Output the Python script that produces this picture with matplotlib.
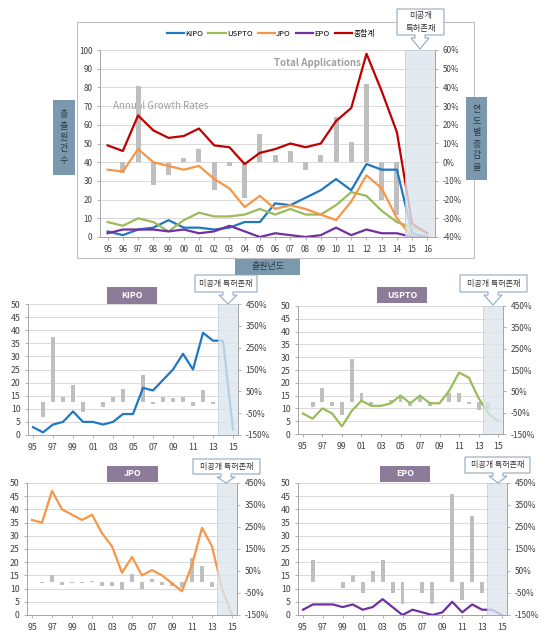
import numpy as np
import matplotlib
matplotlib.use("Agg")
import matplotlib.pyplot as plt
from matplotlib.patches import Polygon, Rectangle

plt.rcParams['font.family'] = ['Noto Sans CJK KR', 'DejaVu Sans']

# - DATA - #
years = ['95', '96', '97', '98', '99', '00', '01', '02', '03', '04', '05',
         '06', '07', '08', '09', '10', '11', '12', '13', '14', '15', '16']
kipo = [3, 1, 4, 5, 9, 5, 5, 4, 5, 8, 8, 18, 17, 21, 25, 31, 25, 39, 36, 36, 2, 0]
uspto = [8, 6, 10, 8, 3, 9, 13, 11, 11, 12, 15, 12, 15, 12, 12, 17, 24, 22, 14, 8, 5, 2]
jpo = [36, 35, 47, 40, 38, 36, 38, 31, 26, 16, 22, 15, 17, 15, 12, 9, 19, 33, 26, 10, 0, 0]
epo = [2, 4, 4, 4, 3, 4, 2, 3, 6, 3, 0, 2, 1, 0, 1, 5, 1, 4, 2, 2, 0, 0]
total = [49, 46, 65, 57, 53, 54, 58, 49, 48, 39, 45, 47, 50, 48, 50, 62, 69, 98, 78, 56, 7, 2]

nan = np.nan
# annual growth rates (%), 95..14
g_total = [nan, -6, 41, -12, -7, 2, 7, -15, -2, -19, 15, 4, 6, -4, 4, 24, 11, 42, -20, -28]
g_kipo = [nan, -67, 300, 25, 80, -44, 0, -20, 25, 60, 0, 125, -6, 24, 19, 24, -19, 56, -8, 0]
g_uspto = [nan, -25, 67, -20, -62, 200, 44, -15, 0, 9, 25, -20, 25, -20, 0, 42, 41, -8, -36, -38]
g_jpo = [nan, -3, 34, -15, -5, -5, 6, -18, -16, -38, 38, -32, 13, -12, -20, -25, 111, 74, -21, nan]
g_epo = [nan, 100, 0, 0, -25, 33, -50, 50, 100, -50, -100, nan, -50, -100, nan, 400, -80, 300, -50, 0]

c_kipo, c_uspto, c_jpo, c_epo, c_total = '#1F78C1', '#9BBB59', '#F79646', '#7030A0', '#C00000'
bar_c = '#BFBFBF'
shade_c = '#DCE6ED'
box_c = '#7B99AE'
title_c = '#8C7B99'

W, H = 550, 640
fig = plt.figure(figsize=(W / 100, H / 100), dpi=100)


def fx(x):
    return x / W


def fy(y):
    return 1 - y / H


def px_axes(x0, y0, x1, y1):
    return fig.add_axes([fx(x0), fy(y1), (x1 - x0) / W, (y1 - y0) / H])


def rect(x0, y0, x1, y1, fc, ec='none', lw=0.8, z=1):
    r = Rectangle((fx(x0), fy(y1)), (x1 - x0) / W, (y1 - y0) / H, transform=fig.transFigure,
                  facecolor=fc, edgecolor=ec, lw=lw, zorder=z)
    fig.add_artist(r)


def callout(x0, y0, x1, y1, tx, ty, text, fs=6):
    pts = [(x0, y0), (x1, y0), (x1, y1), (tx + 5, y1), (tx + 5, y1 + 3), (tx + 9, y1 + 3),
           (tx, ty), (tx - 9, y1 + 3), (tx - 5, y1 + 3), (tx - 5, y1), (x0, y1)]
    poly = Polygon([(fx(a), fy(b)) for a, b in pts], closed=True, transform=fig.transFigure,
                   facecolor='white', edgecolor='#8FAAC0', lw=0.8, zorder=10)
    fig.add_artist(poly)
    fig.text(fx((x0 + x1) / 2), fy((y0 + y1) / 2), text, ha='center', va='center',
             fontsize=fs, color='#333333', zorder=11, linespacing=1.6)


def style_axes(ax, ax2):
    for a in (ax, ax2):
        a.spines['top'].set_visible(False)
        for s in ('left', 'right', 'bottom'):
            a.spines[s].set_color('#A6A6A6')
            a.spines[s].set_linewidth(0.7)
        a.tick_params(colors='#A6A6A6', labelcolor='#404040', length=2, width=0.6)
    ax.grid(axis='y', color='#D9D9D9', lw=0.7)
    ax.set_axisbelow(True)


# - MAIN CHART - #
rect(77, 22, 474, 258, 'none', '#BFBFBF', lw=0.8, z=0)
ax = px_axes(100, 50, 435, 237)
ax2 = ax.twinx()
x = np.arange(len(years))
ax2.bar(x[:20], g_total, width=0.33, color=bar_c, zorder=2)
series = [(kipo, c_kipo, 'KIPO'), (uspto, c_uspto, 'USPTO'), (jpo, c_jpo, 'JPO'),
          (epo, c_epo, 'EPO'), (total, c_total, '종합계')]
handles = []
for vals, c, name in series:
    h, = ax2.plot(x, vals, color=c, lw=1.6, transform=ax.transData, label=name, zorder=3)
    handles.append(h)
ax2.axvspan(19.5, 21.5, facecolor=shade_c, edgecolor='#B8CAD6', lw=0.6, alpha=0.82, zorder=5)
ax.set_xlim(-0.5, 21.5)
ax.set_ylim(0, 100)
ax.set_yticks(range(0, 101, 10))
ax2.set_ylim(-40, 60)
ax2.set_yticks(range(-40, 61, 10))
ax2.set_yticklabels([f'{v}%' for v in range(-40, 61, 10)])
ax.set_xticks(x)
ax.set_xticklabels(years)
style_axes(ax, ax2)
ax.tick_params(labelsize=5.8)
ax2.tick_params(labelsize=5.8)
ax2.legend(handles=handles, loc='center', bbox_to_anchor=(0.51, 1.085), ncol=5, frameon=False,
           fontsize=5.6, handlelength=2.2, handletextpad=0.15, columnspacing=0.7)
ax.text(0.65, 0.93, 'Total Applications', transform=ax.transAxes, ha='center', va='center',
        fontsize=7, color='#A0A0A0', fontweight='bold')
ax.text(0.18, 0.70, 'Annual Growth Rates', transform=ax.transAxes, ha='center', va='center',
        fontsize=7, color='#A0A0A0')

# axis label boxes
rect(53, 100, 75, 175, box_c, z=2)
fig.text(fx(64), fy(137.5), '\n'.join('총출원건수'), ha='center', va='center', fontsize=6.5,
         color='#2E3B47', linespacing=1.35)
rect(466, 97, 487, 180, box_c, z=2)
fig.text(fx(476.5), fy(138.5), '\n'.join('연도별증감율'), ha='center', va='center', fontsize=6.5,
         color='#2E3B47', linespacing=1.35)
rect(235, 259, 300, 275, box_c, z=2)
fig.text(fx(267.5), fy(267), '출원년도', ha='center', va='center', fontsize=6.5, color='#2E3B47')
callout(397, 9, 444, 35, 420, 49, '미공개\n특허존재', fs=6)


# - SMALL CHARTS - #
def small_chart(box, vals, growth, color, title, tbox, cbox):
    x0, y0, x1, y1 = box
    a = px_axes(x0, y0, x1, y1)
    a2 = a.twinx()
    xs = np.arange(21)
    a2.bar(xs[:20], growth, width=0.4, color=bar_c, zorder=2)
    a2.plot(xs, vals[:21], color=color, lw=1.6, transform=a.transData, zorder=3)
    a2.axvspan(18.5, 20.5, facecolor=shade_c, edgecolor='#B8CAD6', lw=0.6, alpha=0.8, zorder=5)
    a.set_xlim(-0.5, 20.5)
    a.set_ylim(0, 50)
    a.set_yticks(range(0, 51, 5))
    a2.set_ylim(-150, 450)
    a2.set_yticks(range(-150, 451, 100))
    a2.set_yticklabels([f'{v}%' for v in range(-150, 451, 100)])
    a.set_xticks(xs[::2])
    a.set_xticklabels(years[0:21:2])
    style_axes(a, a2)
    a.tick_params(labelsize=6.3)
    a2.tick_params(labelsize=6)
    tx0, ty0, tx1, ty1 = tbox
    rect(tx0, ty0, tx1, ty1, title_c, z=2)
    fig.text(fx((tx0 + tx1) / 2), fy((ty0 + ty1) / 2), title, ha='center', va='center',
             fontsize=6.3, color='white', fontweight='bold', zorder=3)
    cx0, cy0, cx1, cy1, ctx, cty = cbox
    callout(cx0, cy0, cx1, cy1, ctx, cty, '미공개 특허존재', fs=5.8)


small_chart((28, 304, 238, 435), kipo, g_kipo, c_kipo, 'KIPO',
            (107, 287, 157, 304), (195, 275, 257, 292, 228, 304))
small_chart((298, 306, 503, 434), uspto, g_uspto, c_uspto, 'USPTO',
            (377, 287, 427, 303), (460, 275, 527, 292, 493, 305))
small_chart((27, 483, 237, 615), jpo, g_jpo, c_jpo, 'JPO',
            (107, 466, 158, 482), (193, 459, 260, 474, 226, 483))
small_chart((298, 483, 507, 615), epo, g_epo, c_epo, 'EPO',
            (380, 466, 430, 482), (465, 457, 530, 473, 498, 483))

fig.savefig('out.png', dpi=100)
